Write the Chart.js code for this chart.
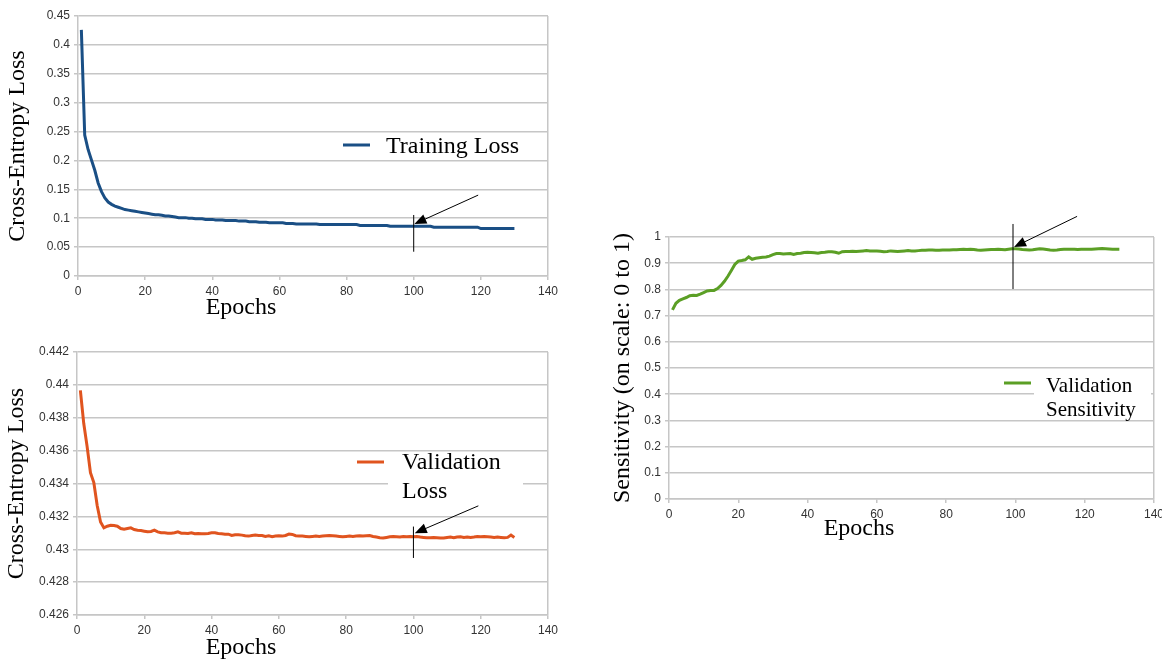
<!DOCTYPE html>
<html>
<head>
<meta charset="utf-8">
<title>Training curves</title>
<script src="https://cdn.jsdelivr.net/npm/chart.js@4.4.1/dist/chart.umd.min.js"></script>
<style>
  html, body { margin: 0; padding: 0; background: #fff; width: 1162px; height: 661px; overflow: hidden; }
  .panel { position: absolute; }
</style>
</head>
<body>
<div class="panel" style="left:0;top:0;width:560px;height:325px"><canvas id="trainChart"></canvas></div>
<div class="panel" style="left:0;top:330px;width:560px;height:331px"><canvas id="valLossChart"></canvas></div>
<div class="panel" style="left:600px;top:200px;width:562px;height:350px"><canvas id="sensChart"></canvas></div>
<script>
// ---------------- data ----------------
const epochs = [
  1, 2, 3, 4, 5, 6, 7, 8, 9, 10, 11, 12, 13, 14, 15, 16, 17, 18, 19, 20,
  21, 22, 23, 24, 25, 26, 27, 28, 29, 30, 31, 32, 33, 34, 35, 36, 37, 38, 39, 40,
  41, 42, 43, 44, 45, 46, 47, 48, 49, 50, 51, 52, 53, 54, 55, 56, 57, 58, 59, 60,
  61, 62, 63, 64, 65, 66, 67, 68, 69, 70, 71, 72, 73, 74, 75, 76, 77, 78, 79, 80,
  81, 82, 83, 84, 85, 86, 87, 88, 89, 90, 91, 92, 93, 94, 95, 96, 97, 98, 99, 100,
  101, 102, 103, 104, 105, 106, 107, 108, 109, 110, 111, 112, 113, 114, 115, 116, 117, 118, 119, 120,
  121, 122, 123, 124, 125, 126, 127, 128, 129, 130
];

const trainingLoss = [
  0.426, 0.244, 0.219, 0.201, 0.183, 0.161, 0.146, 0.135, 0.128, 0.124,
  0.121, 0.119, 0.117, 0.115, 0.114, 0.113, 0.112, 0.111, 0.110, 0.109,
  0.108, 0.107, 0.106, 0.106, 0.105, 0.104, 0.104, 0.103, 0.102, 0.101,
  0.101, 0.101, 0.100, 0.100, 0.099, 0.099, 0.099, 0.098, 0.098, 0.098,
  0.097, 0.097, 0.097, 0.096, 0.096, 0.096, 0.096, 0.095, 0.095, 0.095,
  0.094, 0.094, 0.094, 0.093, 0.093, 0.093, 0.092, 0.092, 0.092, 0.092,
  0.092, 0.091, 0.091, 0.091, 0.090, 0.090, 0.090, 0.090, 0.090, 0.090,
  0.090, 0.089, 0.089, 0.089, 0.089, 0.089, 0.089, 0.089, 0.089, 0.089,
  0.089, 0.089, 0.089, 0.0875, 0.0875, 0.0875, 0.0875, 0.0875, 0.0875, 0.0875,
  0.0875, 0.0875, 0.086, 0.086, 0.086, 0.086, 0.086, 0.086, 0.086, 0.086,
  0.086, 0.086, 0.086, 0.086, 0.086, 0.0845, 0.0845, 0.0845, 0.0845, 0.0845,
  0.0845, 0.0845, 0.0845, 0.0845, 0.0845, 0.0845, 0.0845, 0.0845, 0.0845, 0.082,
  0.082, 0.082, 0.082, 0.082, 0.082, 0.082, 0.082, 0.082, 0.082, 0.082
];

const validationLoss = [
  0.43966, 0.43766, 0.43626, 0.43466, 0.43406, 0.43266, 0.43166, 0.4313, 0.4314, 0.43146,
  0.43144, 0.4314, 0.43126, 0.43122, 0.43126, 0.4313, 0.4312, 0.43116, 0.43114, 0.4311,
  0.43106, 0.43108, 0.43116, 0.43106, 0.431, 0.431, 0.43098, 0.43098, 0.431, 0.43106,
  0.43098, 0.43098, 0.43096, 0.431, 0.43094, 0.43096, 0.43094, 0.43094, 0.43096, 0.431,
  0.431, 0.43096, 0.43094, 0.43092, 0.43092, 0.43084, 0.43088, 0.43088, 0.43086, 0.43082,
  0.4308, 0.43084, 0.43086, 0.43084, 0.43084, 0.43078, 0.43082, 0.43076, 0.4308, 0.43082,
  0.4308, 0.43084, 0.43092, 0.4309, 0.43082, 0.4308, 0.4308, 0.43078, 0.43076, 0.43078,
  0.4308, 0.43078, 0.4308, 0.43082, 0.43084, 0.43082, 0.4308, 0.43078, 0.43076, 0.43078,
  0.4308, 0.43078, 0.4308, 0.43082, 0.4308, 0.43082, 0.43084, 0.43078, 0.43074, 0.4307,
  0.43068, 0.43072, 0.43076, 0.43078, 0.43076, 0.43074, 0.43078, 0.43076, 0.43078, 0.43076,
  0.43078, 0.43074, 0.43072, 0.4307, 0.4307, 0.43072, 0.4307, 0.43068, 0.43068, 0.43072,
  0.43074, 0.4307, 0.43074, 0.43076, 0.43072, 0.43074, 0.43072, 0.43074, 0.43078, 0.43076,
  0.43078, 0.43076, 0.43074, 0.43072, 0.43074, 0.43072, 0.4307, 0.43072, 0.43086, 0.43072
];

const validationSensitivity = [
  0.722, 0.747, 0.758, 0.764, 0.769, 0.776, 0.778, 0.777, 0.782, 0.788,
  0.794, 0.796, 0.796, 0.803, 0.815, 0.831, 0.850, 0.872, 0.895, 0.908,
  0.910, 0.913, 0.924, 0.915, 0.919, 0.921, 0.923, 0.924, 0.927, 0.933,
  0.937, 0.937, 0.935, 0.936, 0.937, 0.933, 0.937, 0.938, 0.941, 0.942,
  0.941, 0.940, 0.938, 0.941, 0.942, 0.944, 0.944, 0.942, 0.938, 0.944,
  0.945, 0.945, 0.946, 0.945, 0.946, 0.947, 0.948, 0.947, 0.947, 0.947,
  0.946, 0.944, 0.945, 0.947, 0.946, 0.945, 0.946, 0.947, 0.948, 0.947,
  0.947, 0.948, 0.949, 0.949, 0.950, 0.950, 0.949, 0.949, 0.950, 0.950,
  0.950, 0.951, 0.951, 0.952, 0.953, 0.952, 0.953, 0.952, 0.950, 0.949,
  0.950, 0.951, 0.952, 0.952, 0.953, 0.952, 0.951, 0.953, 0.955, 0.955,
  0.954, 0.952, 0.951, 0.950, 0.951, 0.953, 0.955, 0.954, 0.952, 0.950,
  0.949, 0.950, 0.952, 0.953, 0.953, 0.953, 0.953, 0.952, 0.953, 0.953,
  0.953, 0.953, 0.954, 0.955, 0.956, 0.955, 0.954, 0.953, 0.953, 0.953
];

const epochTicks = [0, 20, 40, 60, 80, 100, 120, 140];
const trainTicks = [0, 0.05, 0.1, 0.15, 0.2, 0.25, 0.3, 0.35, 0.4, 0.45];
const valLossTicks = [0.426, 0.428, 0.43, 0.432, 0.434, 0.436, 0.438, 0.44, 0.442];
const sensTicks = [0, 0.1, 0.2, 0.3, 0.4, 0.5, 0.6, 0.7, 0.8, 0.9, 1];

const gridColor = "#c6c6c6";
const serif = '"Liberation Serif", "Times New Roman", serif';

Chart.defaults.font.family = '"Liberation Sans", Arial, sans-serif';
Chart.defaults.font.size = 12;
Chart.defaults.color = "#333";

// legend, x caption and the "epoch 100" marker with its arrow
const extras = {
  id: "extras",
  beforeDatasetsDraw(chart, args, opts) {
    if (!opts.legendBox) return;
    const b = opts.legendBox;
    chart.ctx.save();
    chart.ctx.fillStyle = "#fff"; // the legend box hides grid lines
    chart.ctx.fillRect(b[0], b[1], b[2], b[3]);
    chart.ctx.restore();
  },
  afterDraw(chart, args, opts) {
    const { ctx, scales: { x, y } } = chart;
    const ds = chart.data.datasets[0];
    ctx.save();

    // legend
    const lg = opts.legend;
    ctx.strokeStyle = ds.borderColor;
    ctx.lineWidth = 3;
    ctx.beginPath();
    ctx.moveTo(lg.x, lg.lineY);
    ctx.lineTo(lg.x + 27, lg.lineY);
    ctx.stroke();
    ctx.fillStyle = "#000";
    ctx.font = lg.size + "px " + serif;
    ctx.textAlign = "left";
    ctx.textBaseline = "alphabetic";
    const lines = lg.wrap ? ds.label.split(" ") : [ds.label];
    lines.forEach((t, i) => ctx.fillText(t, lg.textX, lg.baseline + i * lg.spacing));

    // x axis caption (sits left of centre in the original)
    ctx.font = "24px " + serif;
    ctx.textAlign = "center";
    ctx.textBaseline = "middle";
    ctx.fillText(opts.xCaption.text, opts.xCaption.x, opts.xCaption.y);

    // marker line + arrow
    const m = opts.marker;
    const mx = x.getPixelForValue(m.epoch);
    ctx.strokeStyle = "#000";
    ctx.fillStyle = "#000";
    ctx.lineWidth = 1;
    ctx.beginPath();
    ctx.moveTo(mx, y.getPixelForValue(m.top));
    ctx.lineTo(mx, y.getPixelForValue(m.bottom));
    ctx.stroke();

    const tx = x.getPixelForValue(m.tip[0]), ty = y.getPixelForValue(m.tip[1]);
    const fx = x.getPixelForValue(m.tail[0]), fy = y.getPixelForValue(m.tail[1]);
    const a = Math.atan2(ty - fy, tx - fx);
    const c = Math.cos(a), s = Math.sin(a);
    ctx.beginPath();
    ctx.moveTo(fx, fy);
    ctx.lineTo(tx - 10 * c, ty - 10 * s);
    ctx.stroke();
    ctx.beginPath();
    ctx.moveTo(tx, ty);
    ctx.lineTo(tx - 12 * c + 5 * s, ty - 12 * s - 5 * c);
    ctx.lineTo(tx - 12 * c - 5 * s, ty - 12 * s + 5 * c);
    ctx.closePath();
    ctx.fill();
    ctx.restore();
  }
};

function buildChart(id, cfg) {
  const canvas = document.getElementById(id);
  const W = canvas.parentNode.clientWidth;
  const H = canvas.parentNode.clientHeight;
  const area = cfg.area; // plot area inside the canvas: [left, top, right, bottom]
  const yTicks = cfg.yTicks;

  return new Chart(canvas, {
    type: "line",
    data: {
      datasets: [{
        label: cfg.label,
        data: epochs.map((e, i) => ({ x: e, y: cfg.values[i] })),
        borderColor: cfg.color,
        backgroundColor: cfg.color,
        borderWidth: 3,
        pointRadius: 0,
        tension: 0
      }]
    },
    options: {
      animation: false,
      responsive: true,
      maintainAspectRatio: false,
      layout: { padding: { left: 0, top: area[1], right: W - area[2], bottom: 0 } },
      plugins: {
        legend: { display: false },
        tooltip: { enabled: false },
        extras: cfg.extras
      },
      scales: {
        x: {
          type: "linear",
          min: epochTicks[0],
          max: epochTicks[epochTicks.length - 1],
          afterBuildTicks: (s) => { s.ticks = epochTicks.map((v) => ({ value: v })); },
          afterFit: (s) => { s.height = H - area[3]; s.paddingLeft = 0; s.paddingRight = 0; },
          ticks: { padding: 4, maxRotation: 0, autoSkip: false },
          grid: {
            color: (ctx) => (ctx.tick && ctx.tick.value === epochTicks[epochTicks.length - 1]) ? gridColor : "rgba(0,0,0,0)",
            tickColor: gridColor,
            tickLength: 4,
            lineWidth: 1.5
          },
          border: { display: true, color: gridColor, width: 1.5 }
        },
        y: {
          min: yTicks[0],
          max: yTicks[yTicks.length - 1],
          afterBuildTicks: (s) => { s.ticks = yTicks.map((v) => ({ value: v })); },
          afterFit: (s) => { s.width = area[0]; s.paddingTop = 0; s.paddingBottom = 0; },
          ticks: { padding: 4, callback: (v) => String(+v.toFixed(3)) },
          grid: { color: gridColor, tickLength: 4, lineWidth: 1.5 },
          border: { display: true, color: gridColor, width: 1.5 },
          title: {
            display: true,
            text: cfg.yTitle,
            color: "#000",
            font: { family: serif, size: 24 },
            padding: { top: cfg.yTitlePad, bottom: 0 }
          }
        }
      }
    },
    plugins: [extras]
  });
}

buildChart("trainChart", {
  label: "Training Loss",
  values: trainingLoss,
  color: "#1a4f85",
  yTicks: trainTicks,
  area: [78, 16, 548, 276],
  yTitle: "Cross-Entropy Loss",
  yTitlePad: 3,
  extras: {
    legend: { x: 343, lineY: 145, textX: 386, baseline: 153, size: 24, spacing: 29, wrap: false },
    xCaption: { text: "Epochs", x: 241, y: 308 },
    marker: { epoch: 100, top: 0.1056, bottom: 0.042, tail: [119.2, 0.14], tip: [100.2, 0.09] }
  }
});

buildChart("valLossChart", {
  label: "Validation Loss",
  values: validationLoss,
  color: "#e0541f",
  yTicks: valLossTicks,
  area: [77, 22, 548, 285],
  yTitle: "Cross-Entropy Loss",
  yTitlePad: 2,
  extras: {
    legendBox: [388, 126, 135, 52],
    legend: { x: 357, lineY: 132, textX: 402, baseline: 139, size: 24, spacing: 29, wrap: true },
    xCaption: { text: "Epochs", x: 241, y: 318 },
    marker: { epoch: 100, top: 0.43138, bottom: 0.42947, tail: [119.3, 0.43264], tip: [100.4, 0.43098] }
  }
});

buildChart("sensChart", {
  label: "Validation Sensitivity",
  values: validationSensitivity,
  color: "#5b9f25",
  yTicks: sensTicks,
  area: [69, 37, 554, 299],
  yTitle: "Sensitivity (on scale: 0 to 1)",
  yTitlePad: 8,
  extras: {
    legendBox: [434, 172, 117, 45],
    legend: { x: 404, lineY: 183, textX: 446, baseline: 192, size: 21, spacing: 24, wrap: true },
    xCaption: { text: "Epochs", x: 259, y: 329 },
    marker: { epoch: 99.3, top: 1.0497, bottom: 0.8013, tail: [117.8, 1.0787], tip: [99.6, 0.9618] }
  }
});
</script>
</body>
</html>
